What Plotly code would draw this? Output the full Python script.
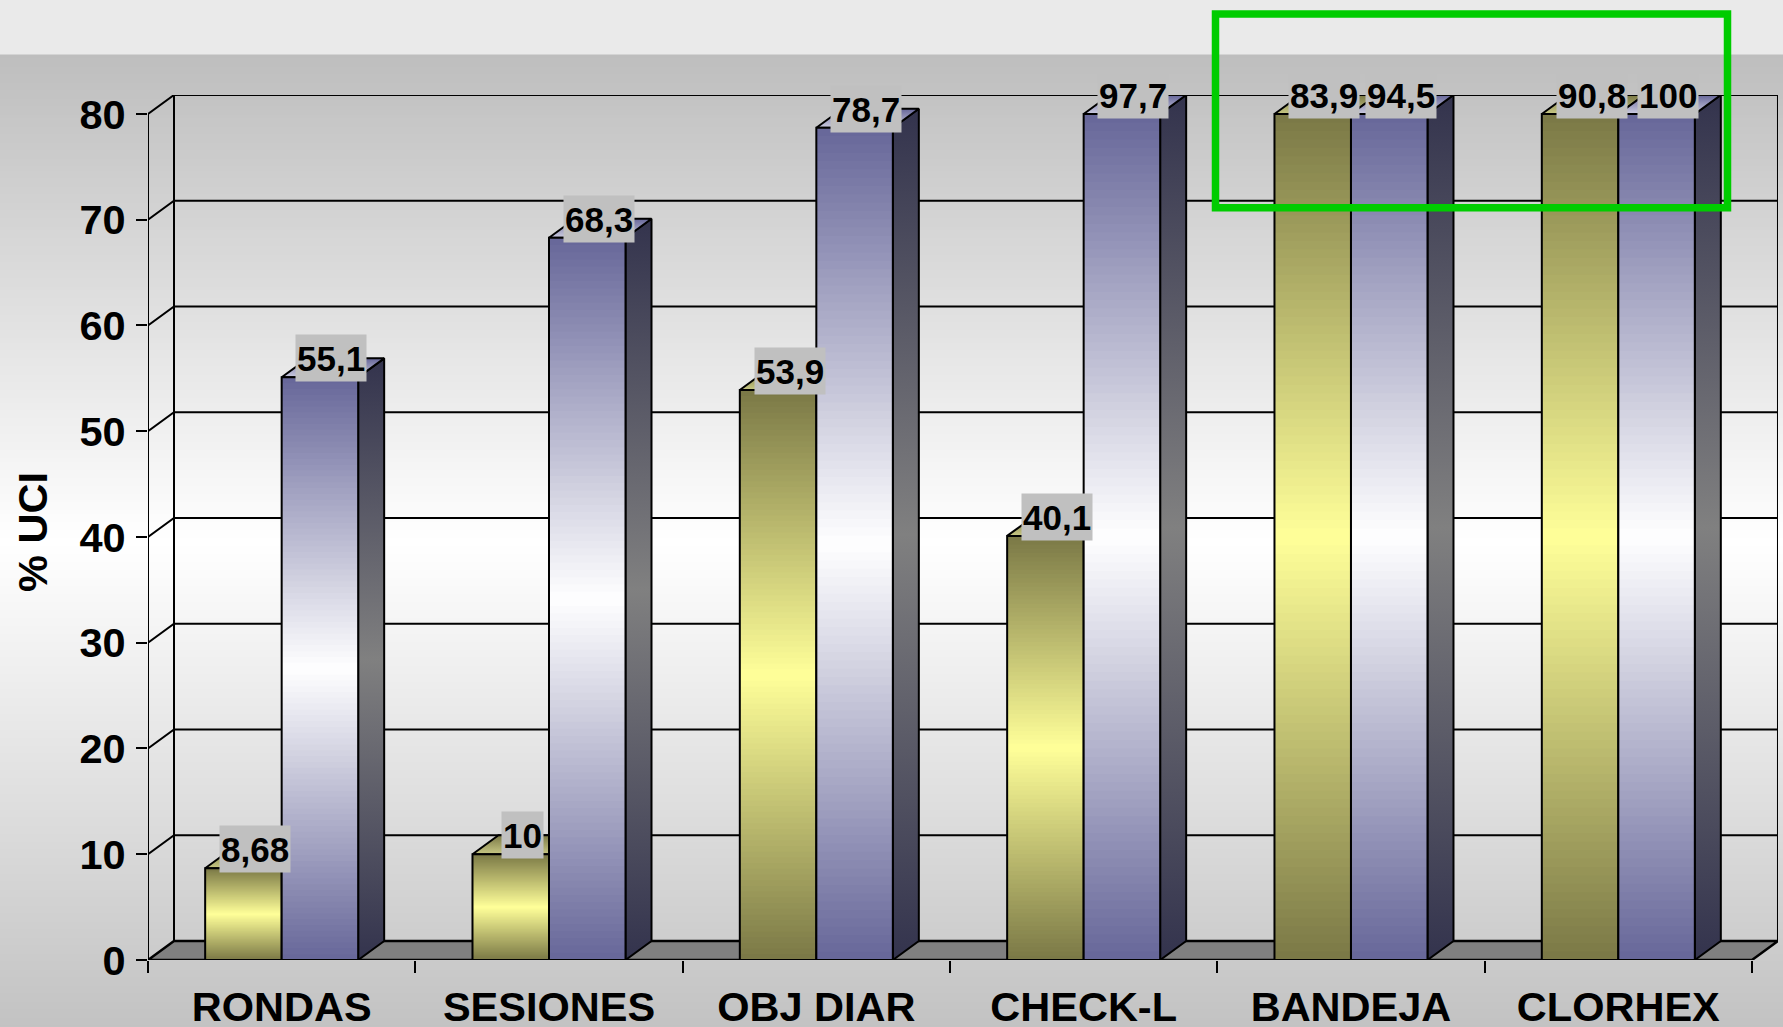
import plotly.graph_objects as go

categories = ["RONDAS", "SESIONES", "OBJ DIAR", "CHECK-L", "BANDEJA", "CLORHEX"]
series_a = [8.68, 10, 53.9, 40.1, 83.9, 90.8]
series_b = [55.1, 68.3, 78.7, 97.7, 94.5, 100]
y_ticks = [0, 10, 20, 30, 40, 50, 60, 70, 80]

W, H = 1783, 1027
L, R, T, B = 148.0, 1778.0, 94.5, 960.5
CAT_PX = 267.33
UNIT_PX = 10.5875
DX = 26 / CAT_PX
DY = 19 / UNIT_PX
BAR_W = 0.2862
Y_MAX = 80
X_RANGE = [-0.5, -0.5 + (R - L) / CAT_PX]
Y_RANGE = [0, (B - T) / UNIT_PX]
N_SEG = 100
FONT = "Liberation Sans"


def px_x(p):
    return (p - L) / (R - L)


def px_y(p):
    return (B - p) / (B - T)


def hexc(c):
    return "#%02X%02X%02X" % tuple(int(round(v)) for v in c)


def lerp(a, b, t):
    return [a[i] + (b[i] - a[i]) * t for i in range(3)]


OLIVE_D, OLIVE_L = (122, 120, 70), (255, 255, 153)
BLUE_D, BLUE_L = (102, 102, 153), (255, 255, 255)
SIDE_D, SIDE_L = (51, 51, 77), (128, 128, 128)

fig = go.Figure()

# floor
x_lo, x_hi = -0.5, 5.5
fig.add_trace(go.Scatter(x=[x_lo, x_hi, x_hi + DX, x_lo + DX, x_lo], y=[0, 0, DY, DY, 0],
                         mode="lines", fill="toself", fillcolor="#808080",
                         line=dict(color="black", width=2.5), hoverinfo="skip"))
# wall lines
wx, wy = [], []
for t in y_ticks[1:]:
    wx += [x_lo, x_lo + DX, x_hi + DX, None]
    wy += [t, t + DY, t + DY, None]
wx += [x_lo, x_lo, None, x_lo + DX, x_lo + DX, None, x_hi + DX, x_hi + DX]
wy += [0, Y_MAX, None, DY, Y_MAX + DY, None, DY, Y_MAX + DY]
fig.add_trace(go.Scatter(x=wx, y=wy, mode="lines", line=dict(color="black", width=2), hoverinfo="skip"))

# depth faces (below the front faces)
def faces(centers, vals, top_colors, side=True):
    for c, v0 in zip(centers, vals):
        v = min(v0, Y_MAX)
        xl, xr = c - BAR_W / 2, c + BAR_W / 2
        if side:
            fig.add_trace(go.Scatter(
                x=[xr, xr + DX, xr + DX, xr, xr], y=[0, DY, v + DY, v, 0],
                mode="lines", fill="toself", line=dict(color="black", width=2), hoverinfo="skip",
                fillgradient=dict(type="vertical",
                                  colorscale=[[0, hexc(SIDE_D)], [0.5, hexc(SIDE_L)], [1, hexc(SIDE_D)]])))
        fig.add_trace(go.Scatter(
            x=[xl, xr, xr + DX, xl + DX, xl], y=[v, v, v + DY, v + DY, v],
            mode="lines", fill="toself", line=dict(color="black", width=2), hoverinfo="skip",
            fillgradient=dict(type="vertical",
                              colorscale=[[0, top_colors[0]], [1, top_colors[1]]])))


centers_a = [i - BAR_W / 2 for i in range(len(categories))]
centers_b = [i + BAR_W / 2 for i in range(len(categories))]
faces(centers_a, series_a, ("#C8C884", hexc(OLIVE_D)), side=False)
faces(centers_b, series_b, ("#CCCCE0", hexc(BLUE_D)))


# front faces: bars built from overlapping gradient slices
def front(centers, vals, dark, light, name):
    xs, bases, hs, cols = [], [], [], []
    for c, v0 in zip(centers, vals):
        v = min(v0, Y_MAX)
        h = v / N_SEG
        for k in range(N_SEG):
            t = (k + 0.5) / N_SEG
            xs.append(c)
            bases.append(k * h)
            hs.append(v - k * h)
            cols.append(hexc(lerp(dark, light, 1 - abs(2 * t - 1))))
    fig.add_trace(go.Bar(x=xs, y=hs, base=bases, width=BAR_W, xaxis="x2", yaxis="y", name=name,
                         marker=dict(color=cols, line=dict(width=0)), hoverinfo="skip"))
    fig.add_trace(go.Bar(x=list(centers), y=[min(v, Y_MAX) for v in vals], width=BAR_W,
                         xaxis="x2", yaxis="y", name=name, customdata=vals,
                         hovertemplate="%{customdata}<extra></extra>",
                         marker=dict(color="rgba(0,0,0,0)", line=dict(color="black", width=2))))


front(centers_a, series_a, OLIVE_D, OLIVE_L, "A")
front(centers_b, series_b, BLUE_D, BLUE_L, "B")

# value labels
annotations = []
for centers, vals in ((centers_a, series_a), (centers_b, series_b)):
    for c, v in zip(centers, vals):
        annotations.append(dict(
            x=c, y=min(v, Y_MAX), xref="x", yref="y", xshift=11.5, yshift=19,
            text=str(v).replace(".", ","), showarrow=False, xanchor="center", yanchor="middle",
            bgcolor="#C0C0C0", borderpad=1, height=44, valign="middle",
            font=dict(family=FONT, size=35, color="black", weight="bold")))
annotations.append(dict(
    x=px_x(33), y=px_y(532), xref="paper", yref="paper", text="% UCI", textangle=-90,
    showarrow=False, xanchor="center", yanchor="middle",
    font=dict(family=FONT, size=41.5, color="black", weight="bold")))

# page background
shapes = []
BG_TOP, BG_MID_Y, BG_BOT = 54, 540, H
for p in range(BG_TOP, H, 4):
    if p < BG_MID_Y:
        g = 190 + (255 - 190) * (p - BG_TOP) / (BG_MID_Y - BG_TOP)
    else:
        g = 255 - (255 - 194) * (p - BG_MID_Y) / (BG_BOT - BG_MID_Y)
    shapes.append(dict(type="rect", xref="paper", yref="paper", layer="below",
                       x0=px_x(0), x1=px_x(W), y0=px_y(H), y1=px_y(p),
                       fillcolor=hexc((g, g, g)), line=dict(width=0)))
# green highlight
shapes.append(dict(type="rect", xref="paper", yref="paper", layer="above",
                   x0=px_x(1215.5), x1=px_x(1727.5), y0=px_y(207.5), y1=px_y(13.5),
                   fillcolor="rgba(0,0,0,0)", line=dict(color="#00CC00", width=7.5)))

tick_font = dict(family=FONT, size=41.5, color="black", weight="bold")
fig.update_layout(
    width=W, height=H, autosize=False, showlegend=False, barmode="overlay",
    margin=dict(l=L, r=W - R, t=T, b=H - B, pad=0),
    paper_bgcolor="#EAEAEA", plot_bgcolor="rgba(0,0,0,0)",
    shapes=shapes, annotations=annotations,
    xaxis=dict(range=X_RANGE, tickmode="array", tickvals=[i - 0.5 for i in range(7)], automargin=False,
               showticklabels=False, ticks="outside", ticklen=12, tickwidth=2, tickcolor="black",
               showgrid=False, zeroline=False, showline=False),
    xaxis2=dict(range=X_RANGE, overlaying="x", anchor="y", side="bottom", tickmode="array", automargin=False,
                tickvals=list(range(len(categories))), ticktext=categories, tickfont=tick_font,
                ticks="", showgrid=False, zeroline=False, showline=False, ticklabelstandoff=18),
    yaxis=dict(range=Y_RANGE, tickmode="array", tickvals=y_ticks, tickfont=tick_font, automargin=False,
               ticks="outside", ticklen=11, tickwidth=2, tickcolor="black",
               showgrid=False, zeroline=False, showline=False, ticklabelstandoff=2),
)

fig.write_html("out.html", config=dict(displayModeBar=False),
               post_script="document.body.style.margin='0';document.body.style.overflow='hidden';")
